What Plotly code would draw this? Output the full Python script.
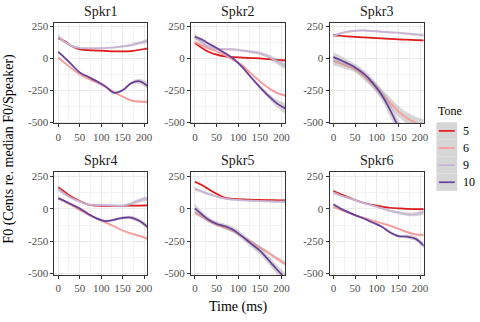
import plotly.graph_objects as go

# ---------------- data ----------------
times = [0, 15, 30, 50, 70, 90, 110, 130, 150, 170, 190, 210]
tones = ["5", "6", "9", "10"]
speakers = ["Spkr1", "Spkr2", "Spkr3", "Spkr4", "Spkr5", "Spkr6"]

spkr1 = {
    "5":  [158, 135, 100, 72, 65, 62, 59, 56, 55, 58, 68, 80],
    "6":  [5, -35, -75, -125, -160, -190, -225, -265, -300, -330, -340, -340],
    "9":  [171, 130, 100, 82, 80, 80, 82, 86, 94, 105, 122, 140],
    "10": [51, 5, -45, -110, -145, -180, -220, -270, -250, -195, -180, -222],
}
spkr2 = {
    "5":  [120, 85, 55, 30, 15, 10, 7, 3, 0, -6, -12, -15],
    "6":  [128, 105, 80, 56, 25, -15, -55, -120, -180, -232, -272, -292],
    "9":  [171, 130, 95, 76, 72, 70, 62, 52, 40, 15, -25, -60],
    "10": [170, 150, 120, 82, 40, -5, -70, -150, -225, -295, -355, -395],
}
spkr3 = {
    "5":  [183, 178, 174, 170, 165, 162, 158, 154, 150, 147, 144, 141],
    "6":  [-20, -40, -60, -84, -140, -200, -270, -345, -416, -470, -505, -530],
    "9":  [176, 195, 208, 217, 220, 215, 210, 205, 202, 195, 188, 182],
    "10": [10, -10, -35, -71, -120, -190, -280, -400, -540, -680, -830, -980],
}
spkr4 = {
    "5":  [166, 130, 95, 60, 32, 24, 23, 23, 23, 24, 25, 27],
    "6":  [81, 55, 30, -10, -45, -75, -105, -135, -167, -190, -210, -232],
    "9":  [154, 115, 85, 55, 32, 29, 28, 25, 23, 40, 65, 80],
    "10": [81, 60, 35, 3, -40, -75, -95, -85, -70, -68, -95, -145],
}
spkr5 = {
    "5":  [208, 185, 155, 116, 85, 76, 72, 70, 68, 67, 66, 65],
    "6":  [-31, -60, -90, -122, -148, -175, -215, -255, -297, -340, -385, -425],
    "9":  [153, 135, 115, 95, 78, 70, 66, 63, 60, 58, 56, 55],
    "10": [3, -40, -80, -115, -135, -165, -215, -270, -323, -395, -470, -540],
}
spkr6 = {
    "5":  [138, 115, 95, 68, 45, 30, 18, 8, 3, -1, -3, -3],
    "6":  [16, -5, -25, -49, -70, -90, -110, -130, -154, -180, -198, -202],
    "9":  [125, 105, 88, 68, 45, 25, 5, -15, -29, -42, -42, -25],
    "10": [34, 5, -20, -49, -75, -105, -135, -180, -211, -215, -232, -290],
}

# standard-error half widths of the smooth ribbons
se1 = {"5": [10, 7, 6, 6, 6, 6, 6, 6, 6, 6, 7, 10],
       "6": [10, 8, 7, 7, 7, 7, 7, 7, 7, 8, 9, 12],
       "9": [18, 12, 9, 8, 8, 8, 8, 8, 9, 10, 13, 18],
       "10": [12, 9, 8, 8, 8, 8, 9, 10, 11, 14, 20, 28]}
se2 = {"5": [10, 7, 6, 6, 6, 6, 6, 6, 6, 7, 8, 10],
       "6": [10, 8, 7, 7, 7, 7, 7, 7, 7, 8, 9, 12],
       "9": [20, 14, 10, 9, 9, 9, 10, 12, 14, 17, 22, 30],
       "10": [18, 12, 10, 10, 10, 10, 12, 14, 17, 22, 30, 45]}
se3 = {"5": [8, 6, 5, 5, 5, 5, 5, 5, 5, 5, 6, 8],
       "6": [38, 30, 26, 26, 28, 32, 36, 40, 42, 44, 46, 50],
       "9": [15, 10, 8, 8, 8, 8, 8, 8, 8, 9, 10, 14],
       "10": [40, 32, 28, 28, 30, 35, 40, 50, 60, 70, 80, 90]}
se4 = {"5": [10, 7, 6, 6, 6, 6, 6, 6, 6, 6, 7, 10],
       "6": [10, 8, 7, 7, 7, 7, 7, 7, 7, 8, 9, 12],
       "9": [18, 12, 10, 9, 9, 9, 9, 10, 11, 13, 16, 20],
       "10": [14, 10, 9, 9, 9, 9, 10, 11, 12, 14, 17, 22]}
se5 = {"5": [10, 7, 6, 6, 6, 6, 6, 6, 6, 6, 7, 10],
       "6": [14, 10, 9, 9, 9, 9, 10, 11, 12, 13, 15, 18],
       "9": [16, 10, 8, 8, 8, 8, 8, 8, 8, 9, 10, 14],
       "10": [35, 25, 20, 18, 20, 22, 25, 28, 30, 32, 35, 40]}
se6 = {"5": [10, 7, 6, 6, 6, 6, 6, 6, 6, 6, 7, 10],
       "6": [12, 8, 7, 7, 7, 7, 7, 7, 7, 8, 9, 12],
       "9": [15, 10, 8, 8, 8, 8, 9, 10, 11, 13, 15, 18],
       "10": [14, 10, 9, 9, 9, 9, 10, 11, 12, 14, 17, 22]}

x_ticks = [0, 50, 100, 150, 200]
y_ticks = [-500, -250, 0, 250]
y_tick_labels = ["-500", "-250", "0", "250"]

# ---------------- styling ----------------
colors = {"5": "#E31A1C", "6": "#FB9A99", "9": "#CAB2D6", "10": "#6A3D9A"}
ribbon = "rgba(153,153,153,0.4)"
FONT = "Liberation Serif, Times New Roman, serif"
W, H = 480, 322

means = [spkr1, spkr2, spkr3, spkr4, spkr5, spkr6]
ses = [se1, se2, se3, se4, se5, se6]

col_px = [(55, 149), (193, 288), (333, 428)]
row_px = [(21, 124), (174, 279)]

fig = go.Figure()
layout = {}
annotations = []

for i, spk in enumerate(speakers):
    r, c = divmod(i, 3)
    ax = "" if i == 0 else str(i + 1)
    xa, ya = "x" + ax, "y" + ax
    x0, x1 = col_px[c]
    y0, y1 = row_px[r]
    layout["xaxis" + ax] = dict(
        domain=[x0 / W, x1 / W], anchor=ya, range=[-9, 208],
        tickvals=x_ticks, ticks="outside", ticklen=3, tickcolor="#333333",
        tickfont=dict(family=FONT, size=11, color="#4D4D4D"),
        showgrid=True, gridcolor="#EBEBEB", gridwidth=1,
        minor=dict(dtick=25, tick0=0, showgrid=True, gridcolor="#F2F2F2", gridwidth=0.6),
        showline=True, mirror=True, linecolor="#333333", linewidth=1,
        zeroline=False,
    )
    layout["yaxis" + ax] = dict(
        domain=[1 - y1 / H, 1 - y0 / H], anchor=xa, range=[-510, 282],
        tickvals=y_ticks, ticktext=y_tick_labels, ticks="outside", ticklen=3,
        tickcolor="#333333",
        tickfont=dict(family=FONT, size=11, color="#4D4D4D"),
        showgrid=True, gridcolor="#EBEBEB", gridwidth=1,
        minor=dict(dtick=125, tick0=0, showgrid=True, gridcolor="#F2F2F2", gridwidth=0.6),
        showline=True, mirror=True, linecolor="#333333", linewidth=1,
        zeroline=False,
    )
    annotations.append(dict(
        text=spk, x=(x0 + x1) / 2 / W, y=1 - (y0 - 2) / H, xref="paper", yref="paper",
        xanchor="center", yanchor="bottom", showarrow=False,
        font=dict(family=FONT, size=14, color="#1A1A1A"),
    ))
    for t in tones:
        m = means[i][t]
        s = ses[i][t]
        lo = [a - b for a, b in zip(m, s)]
        hi = [a + b for a, b in zip(m, s)]
        fig.add_trace(go.Scatter(x=times, y=lo, mode="lines", line=dict(width=0, shape="spline"),
                                 xaxis=xa, yaxis=ya, showlegend=False, hoverinfo="skip"))
        fig.add_trace(go.Scatter(x=times, y=hi, mode="lines", line=dict(width=0, shape="spline"),
                                 fill="tonexty", fillcolor=ribbon,
                                 xaxis=xa, yaxis=ya, showlegend=False, hoverinfo="skip"))
        fig.add_trace(go.Scatter(x=times, y=m, mode="lines",
                                 line=dict(color=colors[t], width=1.7, shape="spline"),
                                 xaxis=xa, yaxis=ya, showlegend=False, name=t))

# axis titles
annotations.append(dict(text="Time (ms)", x=241.5 / W, y=1 - 312 / H, xref="paper", yref="paper",
                        xanchor="center", yanchor="middle", showarrow=False,
                        font=dict(family=FONT, size=14, color="#000000")))
annotations.append(dict(text="F0 (Cents re. median F0/Speaker)", x=9 / W, y=1 - 150 / H,
                        xref="paper", yref="paper", xanchor="center", yanchor="middle",
                        textangle=-90, showarrow=False,
                        font=dict(family=FONT, size=14, color="#000000")))

# manual legend
shapes = []
annotations.append(dict(text="Tone", x=441 / W, y=1 - 111 / H, xref="paper", yref="paper",
                        xanchor="left", yanchor="middle", showarrow=False,
                        font=dict(family=FONT, size=12, color="#000000")))
key_top, key_h = 123, 17.5
for k, t in enumerate(tones):
    ky0 = key_top + k * key_h
    shapes.append(dict(type="rect", xref="paper", yref="paper",
                       x0=441 / W, x1=462 / W, y0=1 - ky0 / H, y1=1 - (ky0 + key_h) / H,
                       fillcolor="#D6D6D6", line=dict(width=0), layer="below"))
    cy = ky0 + key_h / 2
    shapes.append(dict(type="line", xref="paper", yref="paper",
                       x0=443.5 / W, x1=459.5 / W, y0=1 - cy / H, y1=1 - cy / H,
                       line=dict(color=colors[t], width=1.7)))
    annotations.append(dict(text=t, x=466 / W, y=1 - cy / H, xref="paper", yref="paper",
                            xanchor="left", yanchor="middle", showarrow=False,
                            font=dict(family=FONT, size=12, color="#000000")))

fig.update_layout(
    width=W, height=H, margin=dict(l=0, r=0, t=0, b=0),
    paper_bgcolor="white", plot_bgcolor="white",
    showlegend=False, annotations=annotations, shapes=shapes,
    **layout,
)

fig.write_html("out.html", config={"displayModeBar": False},
               post_script="document.body.style.margin='0';document.body.style.overflow='hidden';")
